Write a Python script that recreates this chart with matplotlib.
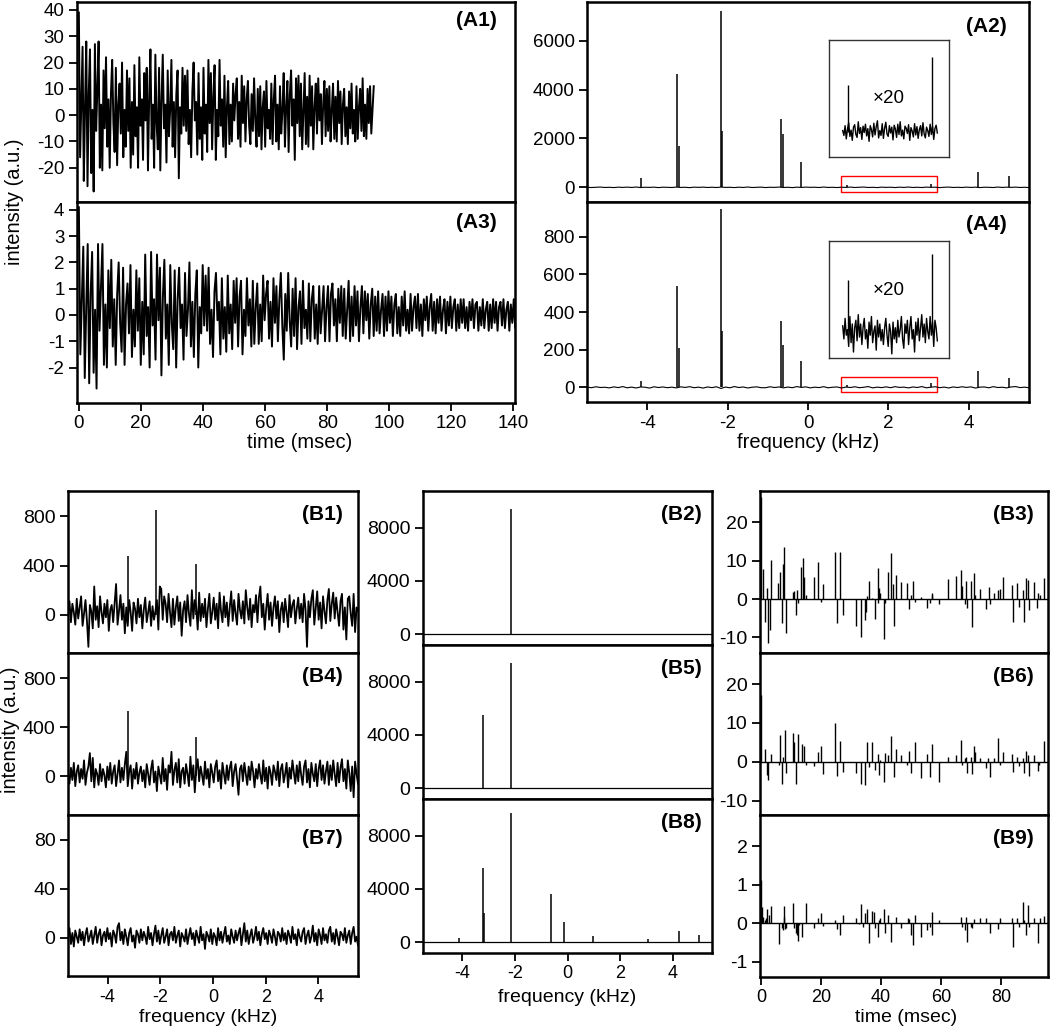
import numpy as np
import matplotlib.pyplot as plt
from matplotlib.patches import Rectangle

plt.rcParams['font.family'] = ['Liberation Sans', 'DejaVu Sans']
plt.rcParams['axes.unicode_minus'] = False

# ---------------- data ----------------
# (A1) FID, 0-95 ms
fid_a1 = [39, -16, 5, 26, -25, 3, 28, -27, 8, 25, -22, 2, -29, 27, -6, 10, 28, -20, 4, -21,
          17, -5, 22, -12, 6, -20, 8, 21, -3, -14, 18, -19, 4, 12, -7, 20, -16, 2, -12, 17,
          -6, 14, -20, 5, -15, 19, -8, 3, -20, 22, -4, 6, -17, 16, -2, 18, -21, 7, 25, -9,
          4, -20, 23, -3, -13, 18, -21, 6, 23, -5, 4, -18, 17, -8, 2, 21, -12, 5, -16, 8,
          17, -24, 3, -7, 18, -4, 15, -6, 17, -11, 2, -16, 9, 20, -2, 5, -15, 16, -9, 3,
          -17, 18, -7, 4, -14, 21, -3, 16, -13, 7, 19, -17, 2, -8, 21, -4, 6, -12, 15, -16,
          3, 13, -11, 4, -10, 12, -2, 8, 14, -9, 5, -12, 15, -3, 11, -10, 6, 13, -4, -11,
          8, -6, 14, -2, -12, 10, -8, 11, -13, 3, 9, -12, 13, -5, 2, -9, 12, -11, 6, 15,
          -10, 4, -13, 11, -7, 2, 16, -12, 3, 13, -14, 8, 17, -4, 6, -17, 14, -3, 15, -8,
          12, -13, 2, 16, -11, 7, -12, 15, -4, 11, -13, 3, 12, -7, 14, -2, 8, -11, 4, 13,
          -8, 10, -6, 11, -10, 2, 12, -9, 7, -10, 13, -3, 9, -11, 4, 10, -8, 3, -11, 9,
          -5, 12, -7, 2, -10, 11, -9, 3, 10, -6, 14, -8, 4, -9, 10, -3, 11, -7, 2, 11]

# (A3) FID, 0-142 ms
fid_a3 = [4.1, -1.5, 0.5, 2.6, -2.4, 0.3, 2.7, -2.6, 0.8, 2.4, -2.2, 0.2, -2.8, 2.7, -0.6, 1.0, 2.7, -1.9, 0.4, -2.0,
          1.7, -0.5, 2.1, -1.2, 0.6, -1.9, 0.8, 2.0, -0.3, -1.4, 1.8, -1.9, 0.4, 1.2, -0.7, 1.9, -1.6, 0.2, -1.2, 1.7,
          -0.6, 1.4, -1.9, 0.5, -1.5, 2.3, -0.8, 0.3, -2.0, 2.4, -0.4, 0.6, -1.7, 2.3, -0.2, 1.8, -2.3, 0.7, 2.1, -0.9,
          0.4, -1.9, 1.9, -0.3, -1.3, 1.7, -2.0, 0.6, 1.8, -0.5, 0.4, -1.7, 1.6, -0.8, 0.2, 2.0, -1.2, 0.5, -1.6, 0.8,
          1.7, -2.0, 0.3, -0.7, 1.9, -0.4, 1.5, -0.6, 1.8, -1.1, 0.2, -1.6, 0.9, 1.6, -0.2, 0.5, -1.5, 1.4, -0.9, 0.3,
          -1.4, 1.5, -0.7, 0.4, -1.3, 1.3, -0.3, 1.4, -1.2, 0.7, 1.3, -1.5, 0.2, -0.8, 1.4, -0.4, 0.6, -1.2, 1.3, -1.1,
          0.3, 1.2, -1.1, 0.4, -1.0, 1.5, -0.2, 0.8, 1.3, -0.9, 0.5, -1.2, 1.4, -0.3, 1.1, -1.0, 0.6, 1.6, -0.4, -1.7,
          0.8, -0.6, 1.6, -0.2, -1.2, 1.0, -0.8, 1.4, -1.3, 0.3, 0.9, -1.1, 1.3, -0.5, 0.2, -0.9, 1.2, -1.0, 0.6, 1.1,
          -0.9, 0.4, -1.1, 1.1, -0.7, 0.2, 1.1, -1.0, 0.3, 1.1, -1.0, 0.8, 1.2, -0.4, 0.6, -1.0, 1.0, -0.3, 1.1, -0.8,
          1.0, -0.9, 0.2, 1.3, -1.0, 0.7, -0.8, 1.1, -0.4, 0.9, -1.0, 0.3, 1.1, -0.7, 0.9, -0.2, 0.8, -0.9, 0.4, 1.0,
          -0.8, 0.7, -0.6, 0.9, -0.7, 0.2, 0.8, -0.8, 0.7, -0.6, 0.9, -0.3, 0.7, -0.8, 0.4, 0.8, -0.7, 0.3, -0.8, 0.7,
          -0.4, 0.9, -0.6, 0.2, -0.7, 0.8, -0.6, 0.3, 0.7, -0.5, 0.8, -0.6, 0.4, -0.8, 0.6, -0.2, 0.7, -0.6, 0.3, 0.8,
          -0.6, 0.5, -0.7, 0.6, -0.3, 0.7, -0.6, 0.2, 0.6, -0.7, 0.5, -0.4, 0.7, -0.5, 0.3, 0.6, -0.6, 0.4, -0.5, 0.6,
          -0.3, 0.6, -0.5, 0.3, -0.6, 0.5, -0.2, 0.6, -0.5, 0.4, 0.5, -0.6, 0.3, -0.4, 0.6, -0.5, 0.2, 0.5, -0.6, 0.4,
          -0.5, 0.6, -0.3, 0.5, -0.6, 0.3, 0.5, -0.4, 0.6, -0.5, 0.2, 0.5, -0.6, 0.4, -0.3, 0.6, -0.5, 0.3, 0.4, -0.2]

# spectra (A2, A4): line positions (kHz) and heights
a_peak_pos = [-4.15, -3.25, -3.20, -2.17, -2.13, -0.66, -0.63, -0.17, 0.97, 3.06, 4.24, 5.00]
a2_peak_h = [370, 4620, 1700, 7210, 2300, 2780, 2200, 1020, 95, 153, 640, 460]
a4_peak_h = [35, 540, 210, 946, 300, 352, 225, 140, 14, 21, 88, 48]

a2_base = [5, -8, 3, 11, -6, 2, -10, 7, -3, 9, -5, 12, -9, 4, -2, 8, -11, 6, 1, -7,
           10, -4, 3, -12, 7, -1, 9, -6, 4, -8, 11, -3, 2, -10, 6, -5, 13, -7, 1, 8,
           -9, 4, -2, 10, -6, 3, -11, 7, -4, 9, -1, 5, -8, 12, -5, 2, -9, 6, -3, 10,
           -7, 4, 11, -6, 1, -10, 8, -2, 5, -9, 7, -4, 12, -6, 3, -8, 9, -1, 6, -11,
           4, 10, -5, 2, -7, 9, -3, 6, -10, 5, 1, -8, 11, -4, 7, -2, 9, -6, 3, -9]
a4_base = [1.5, -2, 3, -1, 0.5, -3, 2.5, -1.5, 4, -2.5, 1, -3.5, 2, 0.5, -4, 3, -1, 2, -2, 1,
           -3, 2.5, -0.5, 3.5, -2, 1, -4, 2, -1.5, 3, -6, 1.5, -2.5, 4, -1, 2, -3.5, 0.5, 2.5, -2,
           -2, 3, -1, 2, -3, 1.5, -2, 4, -0.5, 2.5, -3, 1, -1.5, 3.5, -2.5, 0.5, 2, -3.5, 1.5, -1,
           3, -2, 0.5, 4, -3, 1, -1.5, 2.5, -2, 3.5, -0.5, 1, -3, 2, -1, 4, -2.5, 0.5, 3, -2,
           1.5, -3.5, 2, -1, 3, -0.5, 2.5, -4, 1, 2, -2.5, 3.5, -1, 0.5, -3, 2, 4, -1.5, 1, -2.5]

# x20 insets, 0.85-3.2 kHz
inset_pos = [0.97, 3.06]
a2_inset = [2, -8, 12, -15, 5, 18, -10, 3, -18, 9, 14, -6, -12, 20, -4, 8, -16, 11, -2, 15,
            -9, 6, -20, 12, 4, -11, 17, -7, 10, 22, -13, 2, -8, 16, -14, 7, 19, -5, -10, 12,
            -3, 9, -17, 13, 5, -12, 15, -6, 20, -9, 3, -15, 11, 7, -4, 14, -18, 8, 1, -11,
            16, -7, 10, -14, 4, 12, -9, 18, -5, -13, 9, 2, -10, 15, -6, 11, -16, 6, 13, -3]
a2_inset_h = [95, 153]
a4_inset = [1.5, -2, 3.5, -1, 0.5, -4, 4, -3, 2, -5.5, 1, 3, -2.5, 4.5, -1.5, 2, -3.5, 1, 3.5, -2,
            0.5, -4.5, 2.5, -1, 4, -3, 0, 1.5, -5, 3, -1.5, 2, -2.5, 0.5, -3.5, 1, 3.5, -1, -4, 2,
            0, -6, 2.5, -2, 1, -3, 3, -1.5, 0.5, 4, -2, -4.5, 2, -0.5, 3, -3.5, 1, 4, -2, 0.5,
            -5.5, 2.5, -1, 3.5, -2.5, 1, 4.5, -1.5, 2, -3, 3.5, 0, -2, 4, -1, 2.5, -4, 3, 1, -2.5]
a4_inset_h = [13.7, 20.8]

# (B1, B4, B7) noisy spectra
b1_noise = [40, 110, -60, 90, 20, -80, 130, -30, 60, 150, -90, 10, 120, -50, -260, 80, 30, -110, 230, -40,
            70, -100, 150, 20, -70, 90, -20, 120, -130, 40, 80, -60, 100, 250, -80, 30, 160, -40, 90, -150,
            60, -90, 120, 20, -130, 100, 50, -70, 130, -20, 80, -110, 40, 140, -60, 20, 110, -90, 70, -40,
            30, 120, -120, 230, 210, -40, 150, 90, -60, 170, 20, -100, 130, -80, 60, 150, -50, 100, -170, 40,
            110, -60, 160, 10, -90, 200, -30, 120, 60, -120, 180, -50, 90, -20, 130, -100, 50, 170, -70, 20,
            140, -40, 90, -110, 180, 30, -60, 150, -20, 100, -90, 60, 190, -50, 120, 10, -80, 170, 40, -30,
            110, -70, 200, 60, -40, 130, -100, 80, 20, 160, -60, 140, 230, -20, 90, -120, 50, 170, -40, 100,
            -90, 60, 150, -30, 110, -140, 40, 100, -60, 130, 20, -100, 160, -20, 80, 120, -70, 50, 140, -30,
            90, -60, 170, 40, -260, 110, -20, 130, 200, -80, 60, 190, -40, 100, -110, 150, 30, -70, 120, 210,
            -50, 90, 180, -30, 140, 20, -90, 110, 170, -120, 60, -200, 130, 150, 10, -90, 170, -140, 60, 30]
b1_peak_pos = [-3.24, -2.15, -0.63]
b1_peak_h = [474, 854, 415]

b4_noise = [20, -60, 70, -30, 110, -80, 40, 90, -50, 60, -20, 130, -70, 30, 80, 190, -40, 150, -90, 60,
            20, -70, 100, -40, 60, 10, -90, 80, -30, 110, -60, 40, 90, -80, 20, 130, -50, 70, -30, 100,
            200, -80, 40, 90, -100, 60, -20, 110, -60, 30, 80, -40, 50, -90, 100, 20, -70, 60, 130, -50,
            40, -120, 80, 10, -60, 150, -40, 60, -110, 90, 30, 200, -70, 50, 110, -50, 140, -90, 40, 70,
            -60, 100, 20, -80, 160, -30, 90, -130, 60, 140, -40, 80, 10, -70, 120, -20, 60, -90, 100, 30,
            -50, 80, 130, -40, 50, -100, 110, 20, -60, 90, -30, 70, 120, -80, 40, 100, -20, -150, 60, 90,
            -40, 110, 20, -70, 80, -30, 120, 40, -90, 60, -20, 100, 10, -60, 130, -40, 70, -100, 80, 30,
            -70, 90, 40, -30, 120, -80, 60, 100, -50, 20, 110, -90, 70, -20, 130, 30, -60, 90, -40, 120,
            10, -70, 80, 130, -50, 60, -90, 110, 20, -40, 100, -80, 60, 130, -30, 90, -60, 40, 120, -70,
            90, -30, 130, 20, -80, 110, -50, 70, 140, -40, 60, -100, 130, 30, -120, 80, -170, 120, 20, -60]
b4_peak_pos = [-3.24, -0.63]
b4_peak_h = [529, 320]

b7_noise = [2, 8, -5, 4, -7, 6, 1, -4, 7, -2, 5, -6, 3, 8, -3, 1, 6, -5, 2, 9,
            -4, 3, 7, -6, 2, 5, -3, 8, -1, 4, -7, 6, 3, -4, 9, 12, -2, 5, -5, 7,
            1, -6, 4, 8, -3, 2, -8, 6, 3, -4, 7, -2, 5, 1, -5, 9, -1, 4, -6, 3,
            10, -3, 6, -5, 2, 8, -4, 1, 7, -6, 3, 5, -2, 9, -4, 2, 6, -7, 4, 1,
            -3, 7, -5, 2, 8, -1, 4, -6, 6, 1, -4, 9, -2, 3, -9, 5, 2, -3, 7, -5,
            4, 1, -6, 8, -2, 5, -4, 3, 9, -3, 2, -5, 7, 1, -4, 6, -2, 4, 8, -6,
            3, 12, -3, 6, -5, 2, 7, -4, 1, 9, -2, 5, -6, 3, 8, -1, 4, -5, 6, 2,
            -4, 7, 1, -6, 5, 3, -3, 8, -2, 4, -5, 6, 2, -4, 9, -1, 3, -6, 7, 1,
            -3, 5, 8, -5, 2, 6, -4, 1, 10, -3, 4, -6, 7, 2, -5, 8, -2, 3, -4, 6,
            9, -3, 4, -5, 7, 1, -6, 5, 3, -2, 8, -4, 2, 6, -5, 4, 9, -3, 1, -6]

# (B2, B5, B8) reconstructed spectra
b2_peak_pos = [-2.15]
b2_peak_h = [9400]
b5_peak_pos = [-3.22, -2.15]
b5_peak_h = [5500, 9420]
b8_peak_pos = [-4.12, -3.23, -3.19, -2.15, -0.64, -0.15, 0.98, 3.07, 4.25, 5.01]
b8_peak_h = [330, 5575, 2200, 9700, 3630, 1500, 450, 255, 825, 500]

# (B3, B6, B9) sparse time-domain signals: times (ms) and values
b3_t = [0, 0.6, 1.2, 2.0, 2.4, 3.0, 3.4, 5.7, 6.3, 7.0, 7.3, 7.8, 8.2, 10.7, 11.1, 11.6, 11.9, 12.2,
        13.4, 13.9, 14.2, 15.0, 17.8, 19.0, 19.9, 20.7, 24.8, 25.2, 26.2, 27.2, 31.7, 33.2, 34.6, 34.9,
        35.3, 36.1, 36.8, 38.1, 38.8, 39.1, 39.3, 39.7, 40.9, 41.4, 42.3, 43.4, 43.9, 44.3, 44.8, 46.6,
        48.7, 49.2, 49.9, 50.6, 51.2, 53.1, 55.3, 56.2, 56.8, 57.0, 59.4, 62.3, 65.0, 66.4, 67.0, 67.8,
        68.3, 68.7, 69.8, 70.1, 71.0, 71.3, 72.8, 75.0, 75.9, 76.2, 77.4, 78.8, 79.4, 80.4, 83.6, 83.8,
        85.1, 85.7, 87.1, 87.6, 88.3, 88.8, 89.2, 91.0, 91.9, 92.3, 92.8, 94.2]
b3_v = [26.7, 7.8, -6.1, 3.0, -11.6, -8.1, 10.2, 4.3, 7.0, -6.3, 9.1, 13.7, -9.0, 1.7, 2.1, -4.2, 2.3, -1.1,
        8.3, 10.8, 5.8, 1.0, 5.8, 9.6, -0.7, 3.8, 12.3, -6.2, 12.3, -4.2, -7.0, -9.8, -5.5, -3.5,
        0.9, 4.7, 0.2, -5.3, 8.1, -1.1, 2.8, 1.5, -10.4, -1.1, 7.0, 11.9, 3.9, -7.0, 6.3, 4.5,
        4.1, -2.6, 1.0, 4.7, -0.7, 0.4, -2.4, -1.1, 1.0, 1.5, -1.3, 5.1, 6.0, 7.6, 3.4, -1.3,
        4.7, -2.4, 4.8, -7.2, 6.7, 1.0, 2.5, -2.6, 3.2, -1.3, 1.5, 2.3, 2.5, 5.8, 3.7, -5.9,
        4.3, -2.0, 2.3, -5.9, 5.6, 5.0, -2.9, 4.5, -2.3, 1.5, 1.0, 5.4]

b6_t = [0, 1.3, 2.0, 2.4, 3.4, 5.9, 6.4, 7.0, 7.4, 7.9, 8.3, 10.6, 11.0, 11.8, 12.2, 13.8, 14.2, 15.0,
        17.8, 19.0, 19.9, 20.7, 24.8, 25.2, 26.2, 27.2, 31.7, 33.2, 34.6, 35.3, 36.1, 37.0, 38.1, 38.8,
        39.3, 39.7, 40.9, 41.4, 42.3, 43.4, 44.3, 44.8, 46.6, 48.7, 49.2, 49.9, 51.2, 53.1, 55.3, 56.2,
        57.0, 59.4, 62.3, 65.0, 66.4, 67.0, 67.8, 68.3, 68.7, 69.8, 70.1, 71.0, 71.3, 72.8, 75.0, 75.4,
        76.2, 77.4, 78.9, 79.4, 80.4, 83.6, 83.8, 85.1, 85.7, 87.1, 87.6, 88.3, 88.8, 89.2, 91.0, 92.1,
        92.6, 94.2]
b6_v = [17.1, 3.4, -3.4, -4.7, 2.0, -0.9, 6.8, -5.6, 1.3, 8.1, -2.8, 7.5, 5.1, -5.7, 7.1, 4.5, 4.0, -0.9,
        -1.1, 2.6, 4.0, -3.2, 10.0, -3.7, 5.4, -2.6, -3.0, -5.7, -6.0, 5.1, -1.3, 5.1, -2.1, 2.1,
        -3.4, 0.4, -5.1, 2.3, 1.7, 6.6, -3.8, 3.4, 1.7, -0.9, 2.8, -3.0, 5.0, -4.3, 2.1, -3.8,
        4.5, -5.1, 1.3, 1.7, 5.6, -0.9, 1.1, 1.3, -3.0, 1.3, -3.2, 4.0, 2.6, 1.1, -1.7, 0.9,
        -4.0, 0.9, 6.0, -0.9, 2.4, 2.1, -2.6, 1.3, -1.1, 1.1, -2.8, 2.8, 1.7, -3.7, 1.7, -2.4,
        -0.9, 5.4]

b9_t = [0, 0.3, 0.8, 1.2, 1.6, 2.1, 2.6, 3.2, 5.9, 6.9, 7.2, 7.6, 7.8, 8.1, 8.3, 10.6, 11.1, 11.7,
        12.0, 12.2, 12.6, 13.8, 15.0, 17.8, 19.0, 19.9, 20.7, 24.6, 25.2, 26.2, 27.2, 31.7, 32.6, 33.2,
        33.8, 34.6, 35.4, 36.1, 37.0, 37.7, 38.1, 38.8, 39.3, 39.7, 40.9, 41.4, 42.3, 43.4, 44.8, 46.6,
        48.8, 49.2, 49.9, 50.6, 51.2, 53.1, 55.3, 56.2, 56.8, 57.0, 59.4, 66.4, 67.0, 67.8, 68.3, 68.7,
        69.8, 70.1, 71.0, 72.8, 75.0, 76.2, 78.9, 79.4, 83.6, 83.8, 85.1, 85.9, 87.1, 87.6, 88.3, 88.8,
        89.2, 91.0, 92.1, 92.8, 94.2]
b9_v = [1.13, 0.43, 0.17, 0.10, 0.15, 0.38, 0.21, 0.44, -0.54, -0.13, -0.17, 0.17, 0.44, -0.15, -0.13, 0.53, -0.13, -0.26,
        -0.30, -0.45, -0.04, -0.34, 0.53, -0.13, 0.15, 0.26, -0.07, 0.10, -0.15, -0.30, 0.23, 0.15, -0.02, 0.51,
        -0.09, 0.26, 0.38, -0.50, 0.32, 0.30, -0.13, -0.36, 0.10, 0.15, 0.38, -0.26, 0.23, -0.47, 0.17, -0.13,
        0.13, 0.11, -0.30, -0.56, 0.23, -0.34, -0.17, -0.09, -0.30, 0.30, 0.09, 0.17, -0.09, -0.17, 0.17, -0.47,
        -0.09, -0.13, 0.11, 0.15, 0.15, -0.24, -0.15, 0.13, 0.15, -0.60, 0.13, -0.09, 0.56, 0.10, -0.30, 0.47,
        -0.10, 0.15, -0.50, 0.15, 0.19]

# ---------------- layout ----------------
W, H = 1050, 1029
fig = plt.figure(figsize=(W / 100, H / 100), dpi=100)


def panel(l, t, r, b):
    return fig.add_axes([l / W, 1 - b / H, (r - l) / W, (b - t) / H])


def style(ax, ysize=14, xsize=13, bottom=True):
    for sp in ax.spines.values():
        sp.set_linewidth(1.8)
    ax.tick_params(direction='out', length=6, width=1.3, pad=3)
    ax.tick_params(axis='y', labelsize=ysize)
    ax.tick_params(axis='x', labelsize=xsize)
    if not bottom:
        ax.tick_params(axis='x', bottom=False, labelbottom=False)


def tag(ax, text, dx, dy):
    ax.annotate(text, xy=(1, 1), xycoords='axes fraction', xytext=(dx, dy),
                textcoords='offset pixels', ha='right', va='center',
                fontsize=15, fontweight='bold')


def spectrum(ax, base, pos, hts, lw=0.8):
    f = np.linspace(-5.5, 5.5, len(base))
    ax.plot(f, base, color='k', lw=lw)
    ax.vlines(pos, 0, hts, color='k', lw=1.1)


def sticks(ax, t, v):
    ax.axhline(0, color='k', lw=1.0)
    ax.vlines(t, 0, v, color='k', lw=1.0)


def inset(l, t, r, b, noise, hts, ylim, ytxt):
    ax = panel(l, t, r, b)
    f = np.linspace(0.85, 3.2, len(noise))
    ax.plot(f, noise, color='k', lw=1.0)
    ax.vlines(inset_pos, 0, hts, color='k', lw=1.0)
    ax.set_xlim(0.51, 3.49)
    ax.set_ylim(*ylim)
    ax.set_xticks([])
    ax.set_yticks([])
    for sp in ax.spines.values():
        sp.set_linewidth(1.0)
        sp.set_color('#333333')
    ax.text(0.5, ytxt, '\u00d720', transform=ax.transAxes, ha='center',
            va='center', fontsize=13.5)


# ---- top left: FIDs ----
ax = panel(77, 2, 515, 202)
ax.plot(np.linspace(0, 95, len(fid_a1)), fid_a1, color='k', lw=1.4)
ax.set_xlim(-0.6, 140.5)
ax.set_ylim(-33, 43)
ax.set_yticks([-20, -10, 0, 10, 20, 30, 40])
style(ax, ysize=13.5, bottom=False)
tag(ax, '(A1)', -18, -18)

ax = panel(77, 202, 515, 403)
ax.plot(np.linspace(0, 142, len(fid_a3)), fid_a3, color='k', lw=1.4)
ax.set_xlim(-0.6, 140.5)
ax.set_ylim(-3.35, 4.3)
ax.set_yticks([-2, -1, 0, 1, 2, 3, 4])
ax.set_xticks(range(0, 141, 20))
style(ax, ysize=13.5, xsize=13.5)
tag(ax, '(A3)', -18, -20)

fig.text(15 / W, 1 - 202 / H, 'intensity (a.u.)', rotation=90, ha='center',
         va='center', fontsize=14.5)
fig.text(300 / W, 1 - 442 / H, 'time (msec)', ha='center', va='center', fontsize=14.5)

# ---- top right: spectra ----
ax = panel(587, 2, 1029, 202)
spectrum(ax, a2_base, a_peak_pos, a2_peak_h)
ax.set_xlim(-5.5, 5.5)
ax.set_ylim(-600, 7580)
ax.set_yticks([0, 2000, 4000, 6000])
style(ax, ysize=13.5, bottom=False)
ax.add_patch(Rectangle((0.82, -192), 2.4, 642, fill=False, edgecolor='red', lw=1.0))
tag(ax, '(A2)', -22, -25)

ax = panel(587, 202, 1029, 402)
spectrum(ax, a4_base, a_peak_pos, a4_peak_h)
ax.set_xlim(-5.5, 5.5)
ax.set_ylim(-78, 985)
ax.set_yticks([0, 200, 400, 600, 800])
ax.set_xticks([-4, -2, 0, 2, 4])
style(ax, ysize=13.5, xsize=13.5)
ax.add_patch(Rectangle((0.82, -27), 2.4, 83, fill=False, edgecolor='red', lw=1.0))
tag(ax, '(A4)', -22, -23)
fig.text(808 / W, 1 - 443 / H, 'frequency (kHz)', ha='center', va='center', fontsize=14.5)

inset(829, 40, 949, 157, a2_inset, a2_inset_h, (-52, 187), 0.5)
inset(829, 241, 949, 358, a4_inset, a4_inset_h, (-7.1, 24.2), 0.575)

# ---- bottom left: noisy spectra ----
rows_l = [(491, 653), (653, 815), (815, 976)]
left = [(b1_noise, b1_peak_pos, b1_peak_h, (-310, 1005), [0, 400, 800], '(B1)'),
        (b4_noise, b4_peak_pos, b4_peak_h, (-315, 1005), [0, 400, 800], '(B4)'),
        (b7_noise, [], [], (-31, 100), [0, 40, 80], '(B7)')]
for (t, b), (noise, pos, hts, ylim, yt, name) in zip(rows_l, left):
    ax = panel(68, t, 358, b)
    spectrum(ax, noise, pos, hts, lw=1.3)
    ax.set_xlim(-5.5, 5.5)
    ax.set_ylim(*ylim)
    ax.set_yticks(yt)
    ax.set_xticks([-4, -2, 0, 2, 4])
    style(ax, bottom=(name == '(B7)'))
    tag(ax, name, -15, -24)
fig.text(10 / W, 1 - 730 / H, 'intensity (a.u.)', rotation=90, ha='center',
         va='center', fontsize=14.5)
fig.text(208 / W, 1 - 1017 / H, 'frequency (kHz)', ha='center', va='center', fontsize=14)

# ---- bottom middle: reconstructed spectra ----
rows_m = [(491, 645), (645, 799), (799, 953)]
mid = [(b2_peak_pos, b2_peak_h, '(B2)'), (b5_peak_pos, b5_peak_h, '(B5)'),
       (b8_peak_pos, b8_peak_h, '(B8)')]
for (t, b), (pos, hts, name) in zip(rows_m, mid):
    ax = panel(423, t, 712, b)
    ax.axhline(0, color='k', lw=0.9)
    ax.vlines(pos, 0, hts, color='k', lw=1.1)
    ax.set_xlim(-5.5, 5.5)
    ax.set_ylim(-820, 10760)
    ax.set_yticks([0, 4000, 8000])
    ax.set_xticks([-4, -2, 0, 2, 4])
    style(ax, bottom=(name == '(B8)'))
    tag(ax, name, -10, -24)
fig.text(567 / W, 1 - 998 / H, 'frequency (kHz)', ha='center', va='center', fontsize=14)

# ---- bottom right: sparse time signals ----
rows_r = [(491, 653), (653, 815), (815, 977)]
right = [(b3_t, b3_v, (-14.1, 28.2), [-10, 0, 10, 20], '(B3)'),
         (b6_t, b6_v, (-13.7, 28), [-10, 0, 10, 20], '(B6)'),
         (b9_t, b9_v, (-1.39, 2.81), [-1, 0, 1, 2], '(B9)')]
for (t, b), (tt, vv, ylim, yt, name) in zip(rows_r, right):
    ax = panel(760, t, 1048, b)
    sticks(ax, tt, vv)
    ax.set_xlim(-0.3, 95.5)
    ax.set_ylim(*ylim)
    ax.set_yticks(yt)
    ax.set_xticks([0, 20, 40, 60, 80])
    style(ax, bottom=(name == '(B9)'))
    tag(ax, name, -14, -23)
fig.text(906 / W, 1 - 1017 / H, 'time (msec)', ha='center', va='center', fontsize=14)

fig.savefig('out.png', dpi=100)
